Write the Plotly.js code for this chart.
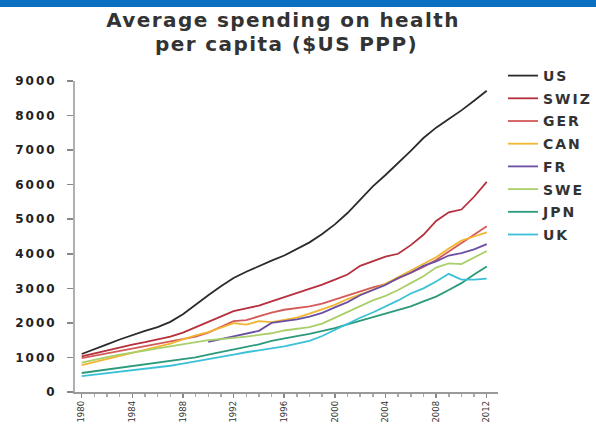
<!DOCTYPE html>
<html>
<head>
<meta charset="utf-8">
<script src="https://cdn.plot.ly/plotly-3.0.1.min.js"></script>
<style>
html,body{margin:0;padding:0;background:#fff;}
#band{position:absolute;left:0;top:0;width:596px;height:7px;background:#0a6fc0;z-index:5;}
#chart{width:596px;height:439px;}
.gtitle, .annotation-text{letter-spacing:1.4px;}
.ytick text{letter-spacing:2px;}
.legendtext{letter-spacing:2px;}
</style>
</head>
<body>
<div id="band"></div>
<div id="chart"></div>
<script>
const years = [1980,1981,1982,1983,1984,1985,1986,1987,1988,1989,1990,1991,1992,1993,1994,1995,1996,1997,1998,1999,2000,2001,2002,2003,2004,2005,2006,2007,2008,2009,2010,2011,2012];
const xTickLabels = ['1980','1984','1988','1992','1996','2000','2004','2008','2012'];
const yTickLabels = ['0','1000','2000','3000','4000','5000','6000','7000','8000','9000'];

const US   = [1100,1250,1380,1520,1650,1770,1880,2030,2250,2530,2800,3060,3300,3480,3650,3800,3950,4130,4330,4570,4850,5180,5550,5950,6280,6620,6980,7350,7650,7900,8150,8430,8720];
const SWIZ = [1030,1120,1200,1290,1370,1440,1510,1600,1720,1880,2030,2200,2340,2420,2500,2620,2740,2850,2990,3110,3250,3400,3650,3780,3920,4000,4250,4550,4950,5200,5280,5650,6080];
const GER  = [980,1050,1110,1180,1250,1320,1380,1450,1540,1600,1720,1880,2050,2080,2200,2300,2380,2420,2480,2560,2680,2800,2920,3030,3120,3280,3450,3620,3820,4060,4320,4540,4800];
const CAN  = [780,870,960,1050,1130,1220,1300,1400,1520,1640,1730,1860,1990,1950,2050,2020,2080,2150,2270,2400,2520,2690,2830,2960,3130,3320,3520,3720,3900,4150,4380,4500,4620];
const FR   = [null,null,null,null,null,null,null,null,null,null,1450,1530,1620,1700,1770,2000,2050,2100,2180,2290,2450,2600,2800,2950,3100,3300,3450,3650,3780,3950,4020,4130,4280];
const SWE  = [850,940,1010,1080,1150,1200,1260,1320,1380,1440,1500,1530,1560,1600,1650,1700,1780,1820,1880,1980,2150,2320,2500,2650,2780,2950,3150,3350,3600,3720,3700,3880,4080];
const JPN  = [550,600,650,700,740,790,830,880,930,1000,1080,1150,1230,1300,1380,1480,1560,1620,1680,1760,1850,1960,2060,2160,2260,2360,2480,2620,2760,2950,3150,3400,3630];
const UK   = [460,500,540,590,630,670,720,760,820,880,950,1010,1080,1150,1200,1260,1320,1400,1480,1620,1800,1980,2150,2300,2470,2650,2850,3000,3200,3420,3250,3250,3280];

const titleLine1 = 'Average spending on health';
const titleLine2 = 'per capita ($US PPP)';

const seriesNames = ['US','SWIZ','GER','CAN','FR','SWE','JPN','UK'];
const seriesData = [US,SWIZ,GER,CAN,FR,SWE,JPN,UK];
const colors = ['#2b2b2b','#b5303c','#d45a5a','#f2b531','#6a4fa3','#a9cf6a','#2a9a7a','#3cc0d8'];

const traces = seriesNames.map((n,i)=>({
  type:'scatter', mode:'lines', name:n, x:years, y:seriesData[i],
  legendgroup:n, connectgaps:false,
  line:{color:colors[i], width:1.8}
}));

const font = 'DejaVu Sans, Arial, sans-serif';
const layout = {
  width:596, height:439,
  margin:{l:75, r:98, t:81, b:47},
  paper_bgcolor:'#fff', plot_bgcolor:'#fff',
  title:{text:'<b>'+titleLine1+'</b>',
    font:{family:font, size:20, color:'#333'}, x:283/596, xanchor:'center',
    yref:'container', y:1-20/439, yanchor:'middle'},
  annotations:[{
    text:'<b>'+titleLine2+'</b>', showarrow:false,
    xref:'paper', yref:'paper', x:(286-75)/423, y:(392-44)/311, xanchor:'center', yanchor:'middle',
    font:{family:font, size:20, color:'#333'}
  }],
  xaxis:{
    range:[1979.47,2012.89], tickvals:xTickLabels.map(Number), ticktext:xTickLabels,
    tickangle:-90, showgrid:false, zeroline:false,
    showline:true, linecolor:'#9a9a9a', linewidth:1.5,
    ticks:'outside', ticklen:4, tickcolor:'#888', tickwidth:1.5,
    minor:{dtick:1, tick0:1980, ticks:'outside', ticklen:3, tickcolor:'#aaa', showgrid:false},
    tickfont:{family:font, size:8.5, color:'#333'}
  },
  yaxis:{
    range:[0,9000], tickvals:yTickLabels.map(Number), ticktext:yTickLabels,
    showgrid:false, zeroline:false,
    showline:true, linecolor:'#b0b0b0', linewidth:2,
    ticks:'outside', ticklen:6, tickcolor:'#888', tickwidth:1.5,
    ticklabelstandoff:8,
    tickfont:{family:font, size:12, color:'#222'}
  },
  showlegend:true,
  legend:{
    xref:'container', yref:'container', x:503/596, y:1-60/439, xanchor:'left', yanchor:'top',
    font:{family:font, size:14, color:'#333'},
    traceorder:'grouped', tracegroupgap:1.5,
    bgcolor:'rgba(0,0,0,0)'
  }
};
layout.legend.font.weight = 'bold';
layout.yaxis.tickfont.weight = 'bold';
Plotly.newPlot('chart', traces, layout, {displayModeBar:false, staticPlot:true});
</script>
</body>
</html>
